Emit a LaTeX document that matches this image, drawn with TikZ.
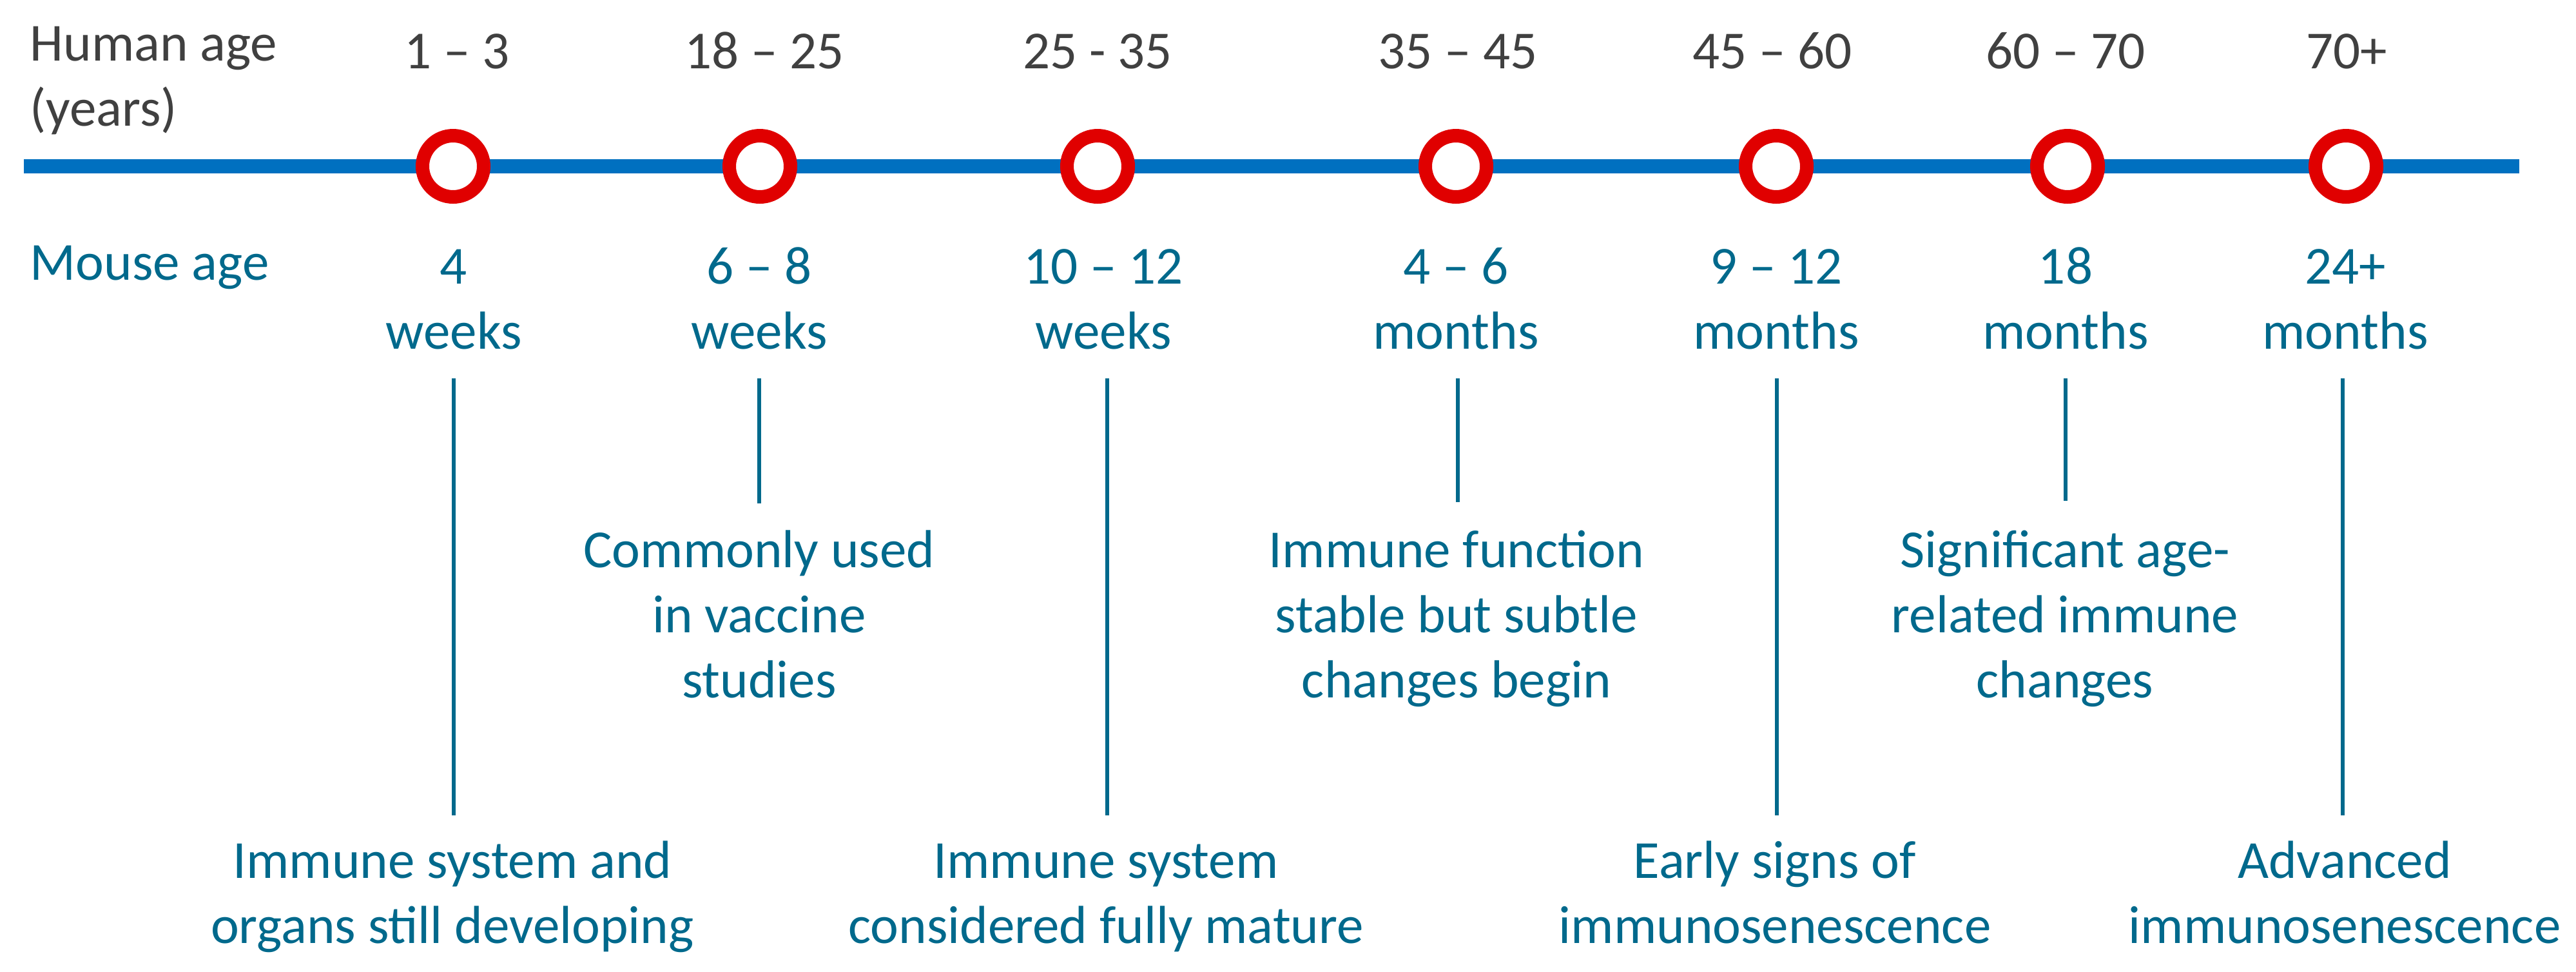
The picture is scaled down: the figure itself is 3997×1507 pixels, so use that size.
\documentclass[tikz,border=0pt]{standalone}
\usepackage{fontspec}
\setmainfont{Carlito}
\definecolor{tlblue}{HTML}{0070C0}
\definecolor{ringred}{HTML}{E00000}
\definecolor{txtgray}{HTML}{404040}
\definecolor{mteal}{HTML}{00698C}
\tikzset{
  lbl/.style={inner sep=0pt, anchor=base, align=center, font=\fontsize{23.64pt}{28.66pt}\selectfont},
  humlbl/.style={lbl, text=txtgray},
  mlbl/.style={lbl, text=mteal},
  ring/.style={circle, draw=ringred, line width=2.1mm, fill=white, minimum size=9.5mm, inner sep=0pt},
  conn/.style={draw=mteal, line width=0.65mm},
  axis/.style={draw=tlblue, line width=2.2mm}
}
\begin{document}
\begin{tikzpicture}[x=0.1mm,y=-0.1mm]
\useasboundingbox (0,0) rectangle (3997,1507);
% axis
\coordinate (axL) at (37,258);
\coordinate (axR) at (3909,258);
\draw[axis] (axL) -- (axR);
% rings
\node[ring] (r1) at (703,258) {};
\node[ring] (r2) at (1179,258) {};
\node[ring] (r3) at (1703,258) {};
\node[ring] (r4) at (2259,258) {};
\node[ring] (r5) at (2756,258) {};
\node[ring] (r6) at (3208,258) {};
\node[ring] (r7) at (3640,258) {};
% human ages (multi-line nodes: base = last line)
\node[humlbl, anchor=base west, align=left] (hum) at (46,195) {Human age\\(years)};
\node[humlbl] (h1) at (709,106) {1 – 3};
\node[humlbl] (h2) at (1186,106) {18 – 25};
\node[humlbl] (h3) at (1703,106) {25 - 35};
\node[humlbl] (h4) at (2262,106) {35 – 45};
\node[humlbl] (h5) at (2750,106) {45 – 60};
\node[humlbl] (h6) at (3205,106) {60 – 70};
\node[humlbl] (h7) at (3641,106) {70+};
% mouse ages
\node[mlbl, anchor=base west] (mouse) at (46,434) {Mouse age};
\node[mlbl] (m1) at (704,541) {4\\weeks};
\node[mlbl] (m2) at (1178,541) {6 – 8\\weeks};
\node[mlbl] (m3) at (1712,541) {10 – 12\\weeks};
\node[mlbl] (m4) at (2259,541) {4 – 6\\months};
\node[mlbl] (m5) at (2756,541) {9 – 12\\months};
\node[mlbl] (m6) at (3205,541) {18\\months};
\node[mlbl] (m7) at (3639,541) {24+\\months};
% descriptions
\node[mlbl] (d1) at (702,1463) {Immune system and\\organs still developing};
\node[mlbl] (d2) at (1178,1082) {Commonly used\\in vaccine\\studies};
\node[mlbl] (d3) at (1716,1463) {Immune system\\considered fully mature};
\node[mlbl] (d4) at (2260,1082) {Immune function\\stable but subtle\\changes begin};
\node[mlbl] (d5) at (2754,1463) {Early signs of\\immunosenescence};
\node[mlbl] (d6) at (3204,1082) {Significant age-\\related immune\\changes};
\node[mlbl] (d7) at (3638,1463) {Advanced\\immunosenescence};
% connectors
\coordinate (c1a) at (704,587);  \coordinate (c1b) at (704,1265);
\coordinate (c2a) at (1178,587); \coordinate (c2b) at (1178,781);
\coordinate (c3a) at (1718,587); \coordinate (c3b) at (1718,1265);
\coordinate (c4a) at (2262,587); \coordinate (c4b) at (2262,779);
\coordinate (c5a) at (2757,587); \coordinate (c5b) at (2757,1265);
\coordinate (c6a) at (3205,587); \coordinate (c6b) at (3205,777);
\coordinate (c7a) at (3635,587); \coordinate (c7b) at (3635,1265);
\draw[conn] (c1a) -- (c1b);
\draw[conn] (c2a) -- (c2b);
\draw[conn] (c3a) -- (c3b);
\draw[conn] (c4a) -- (c4b);
\draw[conn] (c5a) -- (c5b);
\draw[conn] (c6a) -- (c6b);
\draw[conn] (c7a) -- (c7b);
\end{tikzpicture}
\end{document}
